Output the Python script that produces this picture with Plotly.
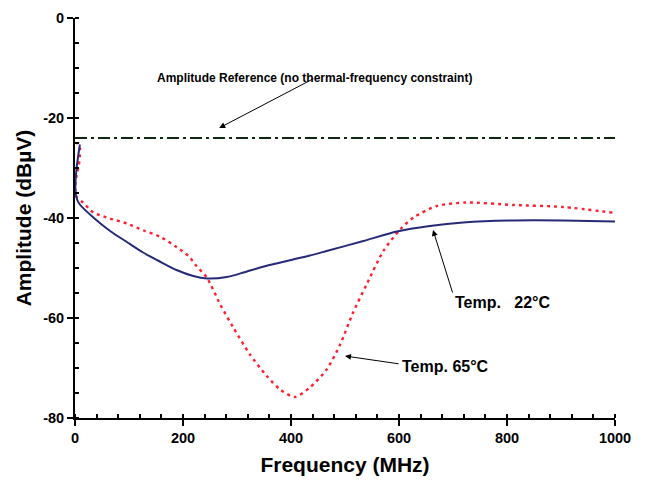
import plotly.graph_objects as go

# Data
freq_22 = [9, 6, 3, 1, 1, 4, 9, 34, 65, 96, 126, 157, 188, 219, 244, 281, 312, 343, 373, 404, 435, 466, 534, 596, 657, 719, 812, 904, 1000]
amp_22 = [-25.3, -27.5, -30.0, -32.5, -35.0, -36.3, -37.3, -39.9, -42.6, -44.8, -46.9, -48.7, -50.4, -51.6, -52.1, -51.8, -50.9, -49.9, -49.1, -48.3, -47.5, -46.6, -44.6, -42.7, -41.6, -40.9, -40.5, -40.5, -40.7]

freq_65 = [2, 6, 9, 9, 7, 3, 1, 1, 4, 15, 34, 65, 96, 127, 157, 188, 210, 225, 244, 269, 293, 324, 355, 380, 407, 435, 466, 491, 515, 540, 571, 602, 627, 670, 725, 812, 904, 1000]
amp_65 = [-25.1, -25.0, -25.6, -27.5, -29.5, -31.5, -33.0, -35.0, -36.0, -36.9, -38.9, -40.1, -41.1, -42.5, -43.7, -45.8, -47.6, -49.6, -51.9, -57.3, -61.9, -67.3, -71.6, -74.3, -75.8, -73.9, -70.3, -65.3, -58.9, -53.3, -46.6, -42.3, -39.9, -37.6, -36.9, -37.4, -37.8, -39.0]

ref_freq = [0, 1000]
ref_amp = [-24, -24]

y_tickvals = [0, -20, -40, -60, -80]
y_ticktext = ["0", "-20", "-40", "-60", "-80"]
x_tickvals = [0, 200, 400, 600, 800, 1000]
x_ticktext = ["0", "200", "400", "600", "800", "1000"]

FONT = "Liberation Sans, Arial, sans-serif"

fig = go.Figure()
fig.add_trace(go.Scatter(x=ref_freq, y=ref_amp, mode="lines",
                         line=dict(color="#10280f", width=2, dash="12px,4px,3px,4px"),
                         showlegend=False))
fig.add_trace(go.Scatter(x=freq_65, y=amp_65, mode="lines",
                         line=dict(color="#ff1f2f", width=2.4, dash="3px,4px", shape="spline", smoothing=0.7),
                         showlegend=False))
fig.add_trace(go.Scatter(x=freq_22, y=amp_22, mode="lines",
                         line=dict(color="#262a78", width=2, shape="spline", smoothing=0.7),
                         showlegend=False))

ann_font = dict(family=FONT, size=16, color="black", weight="bold")
fig.add_annotation(x=267, y=-22, ax=444, ay=-12, axref="x", ayref="y", xref="x", yref="y",
                   text="", showarrow=True, arrowhead=2, arrowsize=1.2, arrowwidth=1, arrowcolor="black")
fig.add_annotation(x=444, y=-12, xref="x", yref="y", text="Amplitude Reference (no thermal-frequency constraint)",
                   showarrow=False, font=dict(family=FONT, size=12, color="black", weight="bold"))
fig.add_annotation(x=663, y=-42.4, ax=700, ay=-55.2, axref="x", ayref="y", xref="x", yref="y",
                   text="", showarrow=True, arrowhead=2, arrowsize=1.2, arrowwidth=1, arrowcolor="black")
fig.add_annotation(x=791, y=-56.9, xref="x", yref="y", text="Temp.   22°C", showarrow=False, font=ann_font)
fig.add_annotation(x=500, y=-67.6, ax=602, ay=-69.2, axref="x", ayref="y", xref="x", yref="y",
                   text="", showarrow=True, arrowhead=2, arrowsize=1.2, arrowwidth=1, arrowcolor="black")
fig.add_annotation(x=687, y=-69.6, xref="x", yref="y", text="Temp. 65°C", showarrow=False, font=ann_font)

fig.update_layout(
    width=645, height=482,
    margin=dict(l=67, r=38, t=10, b=72),
    paper_bgcolor="white", plot_bgcolor="white",
    font=dict(family=FONT, color="black"),
)
fig.update_xaxes(range=[0, 1000], tickvals=x_tickvals, ticktext=x_ticktext, automargin=False,
                 showgrid=False, zeroline=False, showline=True, linecolor="black", linewidth=2,
                 ticks="outside", ticklen=6, tickwidth=2, tickcolor="black",
                 minor=dict(dtick=40, tick0=0, ticks="inside", ticklen=4, tickwidth=1.5, tickcolor="black"),
                 tickfont=dict(family=FONT, size=14.5, weight="bold"),
                 title=dict(text="Frequency (MHz)", font=dict(family=FONT, size=21, weight="bold"), standoff=12))
fig.update_yaxes(range=[-80, 0], tickvals=y_tickvals, ticktext=y_ticktext, automargin=False,
                 showgrid=False, zeroline=False, showline=True, linecolor="black", linewidth=2,
                 ticks="outside", ticklen=6, tickwidth=2, tickcolor="black",
                 minor=dict(dtick=5, tick0=0, ticks="inside", ticklen=4, tickwidth=1.5, tickcolor="black"),
                 tickfont=dict(family=FONT, size=14.5, weight="bold"),
                 title=dict(text="Amplitude (dBµV)", font=dict(family=FONT, size=21, weight="bold"), standoff=6))

fig.write_html("out.html")
